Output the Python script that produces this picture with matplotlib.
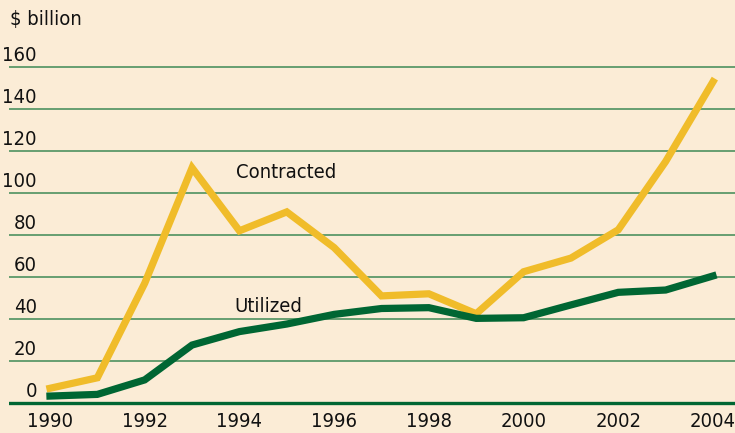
import matplotlib.pyplot as plt

years = list(range(1990, 2005))
contracted = [7, 12, 57, 112, 82, 91, 74, 51, 52, 42.5, 62.5, 69, 82.5, 115, 153]
utilized = [3.3, 4.1, 11, 27.6, 34, 37.6, 42.2, 45, 45.4, 40.3, 40.6, 46.7, 52.7, 53.8, 60.5]
grid_vals = [20, 40, 60, 80, 100, 120, 140, 160]
y_labels = ["0", "20", "40", "60", "80", "100", "120", "140", "160"]
x_ticks = [1990, 1992, 1994, 1996, 1998, 2000, 2002, 2004]

bg = "#fbecd6"
yellow = "#f0bc2a"
dkgreen = "#006633"
grid_green = "#3f8a55"

plt.rcParams["font.family"] = ["DejaVu Sans"]
plt.rcParams["font.stretch"] = "condensed"

fig = plt.figure(figsize=(7.35, 4.33), dpi=100)
fig.patch.set_facecolor(bg)

# axes covers whole figure from x=9px; 0 at y=403px, 2.1 px per unit, 47.4 px per year
ax = fig.add_axes([9 / 735, 0, 1 - 9 / 735, 1])
ax.set_facecolor(bg)
ax.set_xlim(1990 - 41 / 47.4, 2004 + 22 / 47.4)
ax.set_ylim(-30 / 2.1, 403 / 2.1)
ax.axis("off")

for v in grid_vals:
    ax.axhline(v, color=grid_green, lw=1.1, zorder=1)
ax.axhline(0, color=dkgreen, lw=2.4, zorder=1)

ax.plot(years, contracted, color=yellow, lw=5.2, solid_joinstyle="miter", zorder=3)
ax.plot(years, utilized, color=dkgreen, lw=5.2, solid_joinstyle="miter", zorder=4)

txt = dict(fontsize=14.5, color="#111111", fontstretch="condensed")

# y labels, right aligned just above the gridlines
for i, lab in enumerate(y_labels):
    fig.text(37 / 735, 1 - (403 - 42 * i - 6) / 433, lab, ha="right", va="baseline", **txt)

fig.text(10 / 735, 1 - 25 / 433, "$ billion", ha="left", va="baseline", **txt)

for yr in x_ticks:
    ax.text(yr, -24 / 2.1, str(yr), ha="center", va="baseline", **txt)

ax.text(1993.92, 107.1, "Contracted", ha="left", va="baseline", **txt)
ax.text(1993.9, 43.3, "Utilized", ha="left", va="baseline", **txt)

fig.savefig("out.png", dpi=100, facecolor=bg)
